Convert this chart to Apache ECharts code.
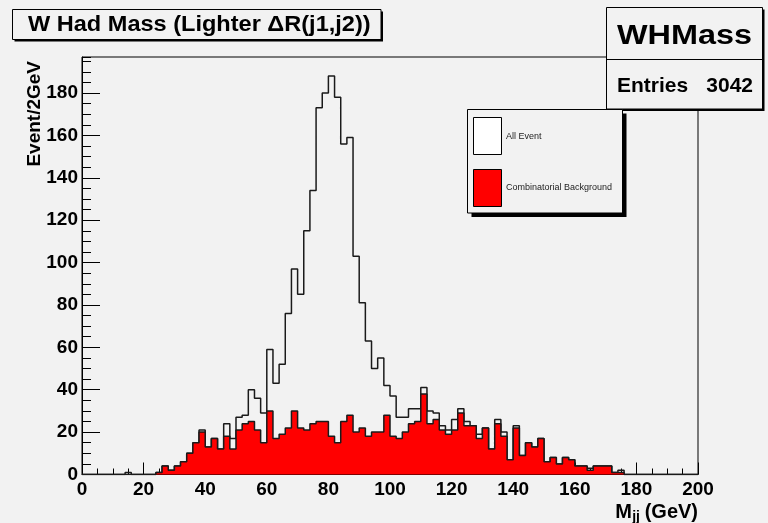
<!DOCTYPE html>
<html>
<head>
<meta charset="utf-8">
<script src="https://cdn.jsdelivr.net/npm/echarts@6/dist/echarts.min.js"></script>
<style>
  html, body { margin: 0; padding: 0; background: #f2f2f2; }
  #chart { width: 768px; height: 523px; }
</style>
</head>
<body>
<div id="chart"></div>
<script>
// Histogram binning: 100 bins of 2 GeV from 0 to 200 GeV
const binLow = 0;
const binWidth = 2;

// Entries per 2 GeV bin, all events (bin 0 = 0-2 GeV)
const allEvent = [
  0, 0, 0, 0, 0, 0, 0, 1, 0, 0,
  0, 0, 1, 4, 2, 4, 6, 10, 15, 21,
  13, 17, 12, 24, 17, 27, 28, 40, 36, 29,
  59, 43, 52, 76, 97, 85, 115, 134, 173, 180,
  188, 178, 156, 159, 103, 81, 63, 50, 55, 42,
  37, 27, 27, 31, 31, 41, 30, 29, 23, 21,
  26, 31, 25, 23, 19, 22, 12, 26, 20, 7,
  23, 9, 15, 13, 17, 6, 8, 5, 8, 7,
  4, 4, 3, 4, 4, 4, 1, 2, 0, 0,
  0, 0, 0, 0, 0, 0, 0, 0, 0, 0
];

// Entries per 2 GeV bin, combinatorial background only
const combBackground = [
  0, 0, 0, 0, 0, 0, 0, 0, 0, 0,
  0, 0, 1, 4, 2, 4, 6, 10, 15, 20,
  13, 17, 12, 18, 12, 21, 24, 25, 21, 15,
  30, 17, 19, 22, 30, 22, 21, 24, 25, 25,
  18, 15, 25, 28, 20, 22, 18, 20, 20, 28,
  18, 17, 20, 24, 25, 38, 24, 26, 21, 19,
  21, 29, 23, 23, 17, 22, 12, 24, 18, 7,
  22, 9, 15, 13, 17, 6, 8, 5, 8, 7,
  4, 4, 2, 4, 4, 4, 1, 1, 0, 0,
  0, 0, 0, 0, 0, 0, 0, 0, 0, 0
];

// Axis ranges and tick steps
const xRange = [0, 200];
const xMajorStep = 20;
const yRange = [0, 197];
const yMajorStep = 20;
const yMinorStep = 5;

// Texts
const histTitle = 'W Had Mass (Lighter \u0394R(j1,j2))';
const histName = 'WHMass';
const entriesLabel = 'Entries';
const entriesValue = '3042';
const yTitle = 'Event/2GeV';
const legendNames = ['All Event', 'Combinatorial Background'];

// Turn bin contents into stepped outline points (left edge of each bin + closing edge)
function stepPoints(vals) {
  const pts = vals.map((v, i) => [binLow + i * binWidth, v]);
  pts.push([binLow + vals.length * binWidth, vals[vals.length - 1]]);
  return pts;
}

const FONT = 'Liberation Sans';
const BG = '#f2f2f2';
const INK = '#000';

const chart = echarts.init(document.getElementById('chart'), null, { renderer: 'canvas' });

const axisLabelStyle = { color: INK, fontFamily: FONT, fontWeight: 'bold', fontSize: 19 };

const option = {
  animation: false,
  backgroundColor: BG,
  grid: {
    left: 82, top: 57, width: 616, height: 417.5,
    show: true, backgroundColor: BG, borderColor: INK, borderWidth: 1,
    outerBoundsMode: 'none'
  },
  xAxis: {
    type: 'value', min: xRange[0], max: xRange[1], interval: xMajorStep,
    axisLine: { show: true, onZero: false, lineStyle: { color: INK, width: 1 } },
    axisTick: { show: true, inside: true, length: 12, lineStyle: { color: INK, width: 1 } },
    minorTick: { show: true, splitNumber: 4, length: 6, lineStyle: { color: INK, width: 1 } },
    axisLabel: Object.assign({ margin: 6 }, axisLabelStyle),
    splitLine: { show: false }, minorSplitLine: { show: false }
  },
  yAxis: [
    {
      type: 'value', min: yRange[0], max: yRange[1], interval: yMajorStep,
      axisLine: { show: true, onZero: false, lineStyle: { color: INK, width: 1 } },
      axisTick: { show: true, inside: true, length: 18, lineStyle: { color: INK, width: 1 } },
      axisLabel: Object.assign({ margin: 4, showMaxLabel: false }, axisLabelStyle),
      splitLine: { show: false }
    },
    {
      type: 'value', position: 'left', offset: 0,
      min: yRange[0], max: yRange[1], interval: yMinorStep,
      axisLine: { show: false },
      axisTick: { show: true, inside: true, length: 9, lineStyle: { color: INK, width: 1 } },
      axisLabel: { show: false },
      splitLine: { show: false }
    }
  ],
  series: [
    {
      name: legendNames[0], type: 'line', step: 'end', symbol: 'none',
      data: stepPoints(allEvent),
      lineStyle: { color: '#1a1a1a', width: 1.5 },
      z: 2
    },
    {
      name: legendNames[1], type: 'line', step: 'end', symbol: 'none',
      data: stepPoints(combBackground),
      lineStyle: { color: '#1a1a1a', width: 1.5 },
      areaStyle: { color: '#ff0000', opacity: 1 },
      z: 3
    }
  ],
  graphic: [
    // title box with drop shadow
    { type: 'rect', shape: { x: 14.5, y: 11.5, width: 368.5, height: 30 }, style: { fill: '#000' }, z: 10 },
    { type: 'rect', shape: { x: 12.5, y: 9.5, width: 368.5, height: 30 }, style: { fill: BG, stroke: INK, lineWidth: 1 }, z: 11 },
    { type: 'text', x: 28, y: 25, scaleX: 1.07, z: 12,
      style: { text: histTitle, fill: INK, font: 'bold 22px "Liberation Sans"', align: 'left', verticalAlign: 'middle' } },

    // statistics box
    { type: 'rect', shape: { x: 608.5, y: 9.5, width: 156, height: 101.5 }, style: { fill: '#000' }, z: 10 },
    { type: 'rect', shape: { x: 606.5, y: 7.5, width: 156, height: 101.5 }, style: { fill: BG, stroke: INK, lineWidth: 1 }, z: 11 },
    { type: 'line', shape: { x1: 606.5, y1: 59.5, x2: 762.5, y2: 59.5 }, style: { stroke: INK, lineWidth: 1 }, z: 12 },
    { type: 'text', x: 684.5, y: 37, scaleX: 1.2, z: 12,
      style: { text: histName, fill: INK, font: 'bold 27px "Liberation Sans"', align: 'center', verticalAlign: 'middle' } },
    { type: 'text', x: 617, y: 86, z: 12,
      style: { text: entriesLabel, fill: INK, font: 'bold 21px "Liberation Sans"', align: 'left', verticalAlign: 'middle' } },
    { type: 'text', x: 753, y: 86, z: 12,
      style: { text: entriesValue, fill: INK, font: 'bold 21px "Liberation Sans"', align: 'right', verticalAlign: 'middle' } },

    // legend with drop shadow
    { type: 'rect', shape: { x: 471.5, y: 113.5, width: 155, height: 103.5 }, style: { fill: '#000' }, z: 10 },
    { type: 'rect', shape: { x: 467.5, y: 109.5, width: 155, height: 103.5 }, style: { fill: BG, stroke: INK, lineWidth: 1 }, z: 11 },
    { type: 'rect', shape: { x: 473.5, y: 117.5, width: 28, height: 37 }, style: { fill: '#fff', stroke: INK, lineWidth: 1 }, z: 12 },
    { type: 'rect', shape: { x: 473.5, y: 169.5, width: 28, height: 37 }, style: { fill: '#ff0000', stroke: INK, lineWidth: 1 }, z: 12 },
    { type: 'text', x: 506, y: 136.5, z: 12,
      style: { text: legendNames[0], fill: '#222', font: '9px "Liberation Sans"', align: 'left', verticalAlign: 'middle' } },
    { type: 'text', x: 506, y: 188, z: 12,
      style: { text: legendNames[1], fill: '#222', font: '9px "Liberation Sans"', align: 'left', verticalAlign: 'middle' } },

    // y axis title, reading upward, ending near the top of the frame
    { type: 'text', x: 35, y: 61, rotation: Math.PI / 2, z: 12,
      style: { text: yTitle, fill: INK, font: 'bold 19px "Liberation Sans"', align: 'right', verticalAlign: 'middle' } },

    // x axis title: M with subscript jj, then unit
    { type: 'text', x: 698, y: 512, z: 12,
      style: { text: '(GeV)', fill: INK, font: 'bold 20px "Liberation Sans"', align: 'right', verticalAlign: 'middle' } },
    { type: 'text', x: 640, y: 517, z: 12,
      style: { text: 'jj', fill: INK, font: 'bold 14px "Liberation Sans"', align: 'right', verticalAlign: 'middle' } },
    { type: 'text', x: 632, y: 512, z: 12,
      style: { text: 'M', fill: INK, font: 'bold 20px "Liberation Sans"', align: 'right', verticalAlign: 'middle' } }
  ]
};

chart.setOption(option);
</script>
</body>
</html>
